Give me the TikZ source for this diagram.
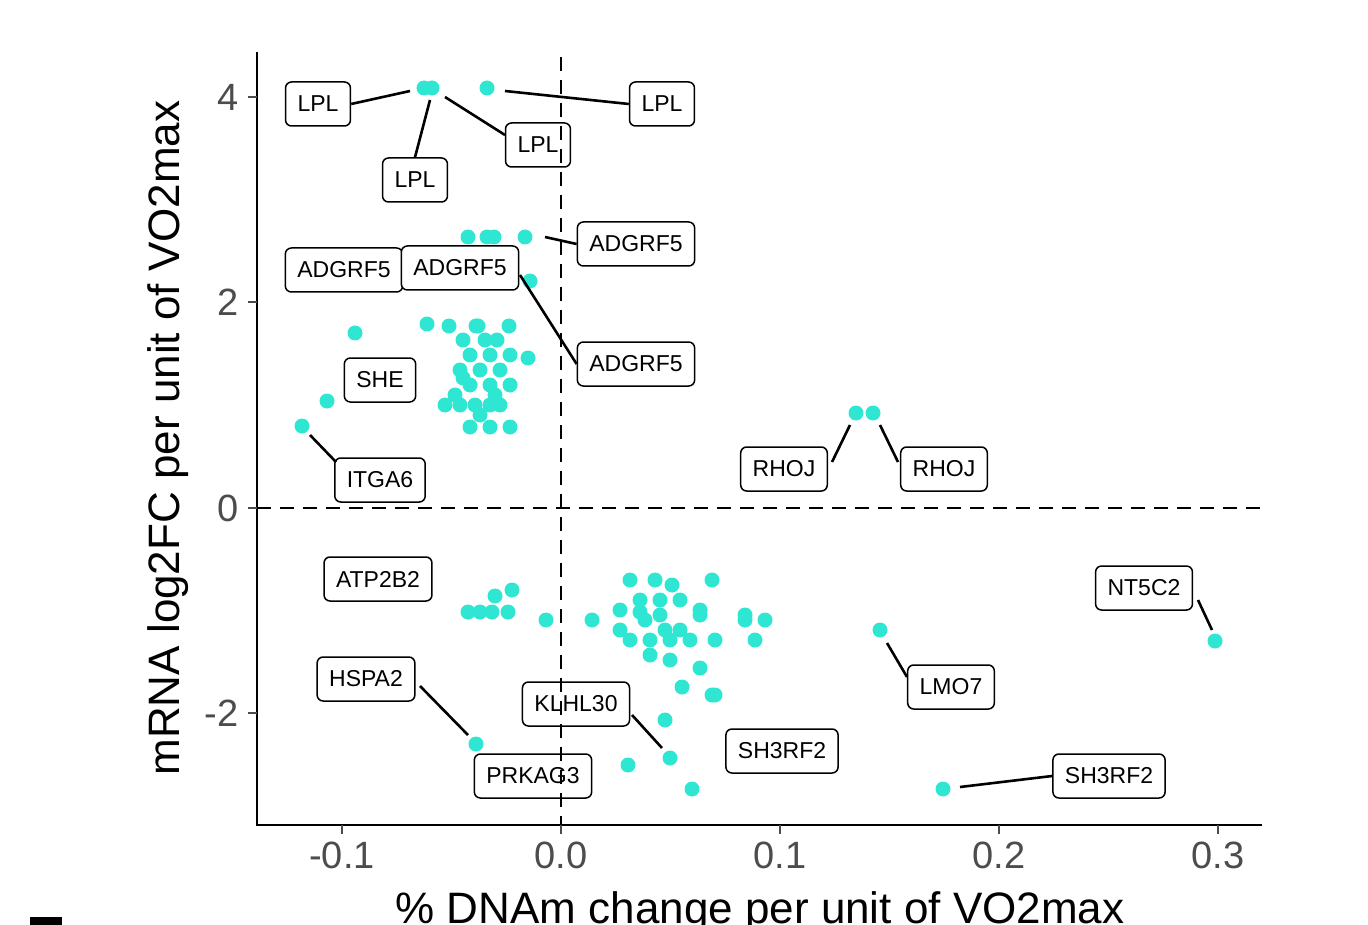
\documentclass[tikz,border=0pt]{standalone}
\usepackage{fontspec}
\setmainfont{Liberation Sans}
\begin{document}
\begin{tikzpicture}[x=1pt,y=-1pt,
 lab/.style={draw,rounded corners=6pt,fill=white,line width=1.5pt,font=\fontsize{23}{24}\selectfont,minimum height=44pt,inner xsep=12pt},
 con/.style={line width=2.6pt},
 tk/.style={font=\fontsize{38}{38}\selectfont,text=black!70}]
\definecolor{ptc}{HTML}{2EE6D2}
\useasboundingbox (0,0) rectangle (1368,925);
\clip (0,0) rectangle (1368,925);
\fill (30,917) rectangle (62,925);
% points
\foreach \x/\y in {424/88,432/88,487/88,468/237,487/237,494/237,525/237,530/281,355/333,327/401,302/426,
427/324,449/326,476/326,509/326,478/326,463/340,497/340,485/340,490/355,470/355,510/355,528/358,460/370,480/370,500/370,470/385,490/385,510/385,463/378,455/395,495/395,445/405,460/405,475/405,490/405,500/405,480/415,470/427,490/427,510/427,
856/413,873/413,
468/612,480/612,492/612,508/612,495/596,512/590,546/620,592/620,
630/580,655/580,672/585,712/580,620/610,640/600,660/600,680/600,700/610,620/630,645/620,660/615,680/630,700/615,640/612,665/630,745/615,765/620,745/620,630/640,650/640,670/640,690/640,715/640,755/640,650/655,670/660,700/668,682/687,712/695,715/695,665/720,670/758,628/765,692/789,
880/630,1215/641,476/744,943/789}
 \fill[ptc] (\x,\y) circle (7.5);
% labels
\node[lab] (l1) at (318,104) {LPL};
\node[lab] (l2) at (662,104) {LPL};
\node[lab] (l3) at (538,145) {LPL};
\node[lab] (l4) at (415,180) {LPL};
\node[lab] (a1) at (636,244) {ADGRF5};
\node[lab] (a2) at (344,270) {ADGRF5};
\node[lab] (a3) at (460,268) {ADGRF5};
\node[lab] (a4) at (636,364) {ADGRF5};
\node[lab] (she) at (380,380) {SHE};
\node[lab] (itg) at (380,480) {ITGA6};
\node[lab] (r1) at (784,469) {RHOJ};
\node[lab] (r2) at (944,469) {RHOJ};
\node[lab] (atp) at (378,579) {ATP2B2};
\node[lab] (nt) at (1144,588) {NT5C2};
\node[lab] (hs) at (366,679) {HSPA2};
\node[lab] (lmo) at (951,687) {LMO7};
\node[lab] (kl) at (576,704) {KLHL30};
\node[lab] (sh1) at (782,751) {SH3RF2};
\node[lab] (pr) at (533,776) {PRKAG3};
\node[lab] (sh2) at (1109,776) {SH3RF2};
% connectors
\coordinate (c1) at (410,91); \draw[con] (l1.east) -- (c1);
\coordinate (c2) at (430,100); \draw[con] (l4.north) -- (c2);
\coordinate (c3) at (445,97); \draw[con] (c3) -- (505,135);
\coordinate (c4) at (505,91); \draw[con] (c4) -- (l2.west);
\coordinate (c5) at (545,237); \draw[con] (c5) -- (a1.west);
\coordinate (c6) at (520,275); \draw[con] (c6) -- (a4.west);
\coordinate (c7) at (310,435); \draw[con] (c7) -- (336,462);
\coordinate (c8) at (850,425); \draw[con] (c8) -- (832,462);
\coordinate (c9) at (880,425); \draw[con] (c9) -- (898,462);
\coordinate (c10) at (1212,630); \draw[con] (c10) -- (1198,600);
\coordinate (c11) at (468,735); \draw[con] (c11) -- (420,686);
\coordinate (c12) at (887,643); \draw[con] (c12) -- (907,677);
\coordinate (c13) at (662,748); \draw[con] (c13) -- (632,715);
\coordinate (c14) at (960,787); \draw[con] (c14) -- (sh2.west);
% dashed
\draw[line width=2.8pt,dash pattern=on 14pt off 9pt] (561,57) -- (561,825);
\draw[line width=2.8pt,dash pattern=on 14pt off 9pt] (257,508) -- (1262,508);
% axes
\draw[line width=2.6pt] (257,52) -- (257,825) -- (1262,825);
\foreach \v/\y in {4/97,2/302,0/508,-2/713}{
 \draw[line width=2pt,black!70] (248,\y) -- (257,\y);
 \node[tk,anchor=east] at (242,\y) {\v};}
\foreach \v/\x in {-0.1/342,0.0/561,0.1/780,0.2/999,0.3/1218}{
 \draw[line width=2pt,black!70] (\x,825) -- (\x,834);
 \node[tk,anchor=north] at (\x,838) {\v};}
\node[rotate=90,font=\fontsize{44}{44}\selectfont] at (168,438) {mRNA log2FC per unit of VO2max};
\node[font=\fontsize{44}{44}\selectfont] at (760,912) {\% DNAm change per unit of VO2max};
\end{tikzpicture}
\end{document}
